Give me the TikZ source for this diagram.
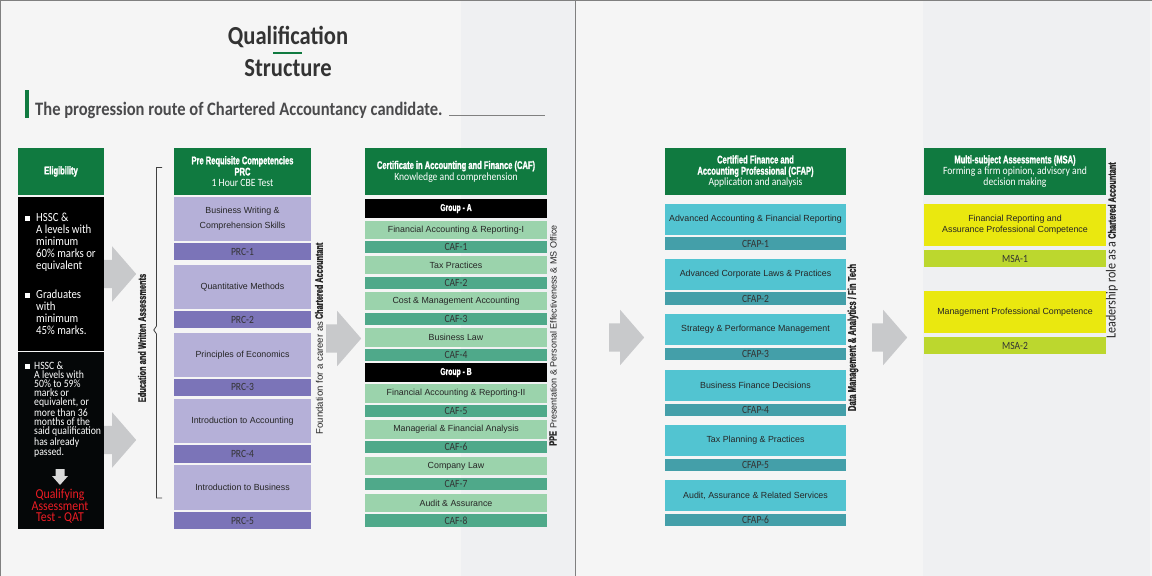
\documentclass[tikz,border=0pt]{standalone}
\usepackage{fontspec}
\setmainfont{Liberation Sans}
\newfontfamily\capfont[FakeStretch=0.87]{Carlito}
\newfontfamily\heavyfont[FakeStretch=0.68,BoldFeatures={FakeBold=1.5}]{Liberation Sans}
\newcommand{\heavy}[1]{{\heavyfont\bfseries #1}}
\newcommand{\heavier}[1]{{\fontsize{10.7}{10}\selectfont\heavy{#1}}}
\newcommand{\capsize}[2]{\fontsize{#1}{#2}\selectfont\capfont}
\usetikzlibrary{shapes.arrows}
\definecolor{headgreen}{HTML}{107A40}
\definecolor{prclight}{HTML}{B5B0D8}
\definecolor{prcdark}{HTML}{7B74B8}
\definecolor{caflight}{HTML}{9BD3AC}
\definecolor{cafdark}{HTML}{4FA98A}
\definecolor{cfaplight}{HTML}{52C4D1}
\definecolor{cfapdark}{HTML}{449FA9}
\definecolor{msalight}{HTML}{EAE80F}
\definecolor{msadark}{HTML}{BCD72E}
\definecolor{panelgrey}{HTML}{F5F5F5}
\definecolor{stripgrey}{HTML}{EFF0F2}
\definecolor{arrowgrey}{HTML}{C8C9CB}
\definecolor{titlegrey}{HTML}{333333}
\definecolor{subgrey}{HTML}{4A4A4C}
\definecolor{qatred}{HTML}{ED1C24}
\definecolor{nearblack}{HTML}{050708}
\tikzset{
  box/.style={inner sep=0pt,align=center,font=\fontsize{8.85}{11}\selectfont,text=black!85},
  head/.style={box,fill=headgreen,text=white,minimum height=47pt,font=\capsize{11.1}{11.2}},
  code/.style={box,font=\capsize{11}{11},text=black!80},
  prc/.style={box,fill=prclight,minimum width=137pt},
  prccode/.style={code,fill=prcdark,minimum width=137pt},
  caf/.style={box,fill=caflight,minimum width=182pt,minimum height=18.5pt},
  cafcode/.style={code,fill=cafdark,minimum width=182pt,minimum height=12.3pt},
  group/.style={box,fill=black,text=white,minimum width=182pt,minimum height=19pt},
  cfap/.style={box,fill=cfaplight,minimum width=181pt,minimum height=31pt},
  cfapcode/.style={code,fill=cfapdark,minimum width=181pt,minimum height=12.5pt},
  msa/.style={box,fill=msalight,minimum width=182pt,minimum height=42pt},
  msacode/.style={code,fill=msadark,minimum width=182pt,minimum height=17pt},
  blockarrow/.style={single arrow,fill=arrowgrey,inner sep=0pt,anchor=tail,minimum height=32pt,
    minimum width=55pt,single arrow head extend=13.5pt,single arrow tip angle=98,
    single arrow head indent=0pt},
  bullet/.style={fill=white,inner sep=0pt,minimum size=5pt},
  elig/.style={anchor=north west,inner sep=0pt,align=left,text=white},
  side/.style={rotate=90,inner sep=0pt,text=black!85}
}
\begin{document}
\begin{tikzpicture}[x=1pt,y=-1pt]
  \useasboundingbox (0,0) rectangle (1152,576);
  % panels
  \fill[panelgrey] (0,0) rectangle (1152,576);
  \fill[stripgrey] (461,0) rectangle (575,576);
  \fill[stripgrey] (923,0) rectangle (1150,576);
  \draw[gray,line width=1pt] (0.5,576)--(0.5,0.5)--(1152,0.5);
  \draw[gray,line width=1pt] (575.5,0)--++(0,576);
  % title
  \node[inner sep=0pt,text=titlegrey,font=\capsize{26}{26}\bfseries] (qualif) at (288,36.5) {Qualification};
  \node[inner sep=0pt,text=titlegrey,font=\capsize{26}{26}\bfseries] (struct) at (288,68.5) {Structure};
  \fill[headgreen] (273,51.8) rectangle (302,53.6);
  \fill[headgreen] (25,90) rectangle (29,118);
  \node[anchor=west,inner sep=0pt,text=subgrey,font=\capsize{19}{19}\bfseries] (route) at (35,110) {The progression route of Chartered Accountancy candidate.};
  \draw[gray] (449,115.5)--++(96,0);
  % eligibility
  \node[head,minimum width=86pt] (elighead) at (61,171.5) {\heavy{Eligibility}};
  \node[fill=black,inner sep=0pt,minimum width=86pt,minimum height=154pt] (eligone) at (61,274) {};
  \node[fill=nearblack,inner sep=0pt,minimum width=86pt,minimum height=177pt] (eligtwo) at (61,440.5) {};
  \node[bullet] (bulleta) at (27.5,218) {};
  \node[elig,font=\capsize{12.4}{12}] (eligtexta) at (36,212.5) {HSSC \&\\A levels with\\minimum\\60\% marks or\\equivalent};
  \node[bullet] (bulletb) at (27.5,295) {};
  \node[elig,font=\capsize{12.4}{12}] (eligtextb) at (36,289.5) {Graduates\\with\\minimum\\45\% marks.};
  \node[bullet] (bulletc) at (27,366.5) {};
  \node[elig,font=\capsize{11.2}{9}] (eligtextc) at (34,362) {HSSC \&\\A levels with\\50\% to 59\%\\marks or\\equivalent, or\\more than 36\\months of the\\said qualification\\has already\\passed.};
  \fill[white!85!black] (55.5,469)--(64.5,469)--(64.5,476)--(68,476)--(60,485)--(52,476)--(55.5,476)--cycle;
  \node[inner sep=0pt,align=center,text=qatred,font=\capsize{13.6}{11}] (qat) at (60,506) {Qualifying\\Assessment\\Test - QAT};
  % arrows
  \node[blockarrow] (arrowa) at (104,274) {\rule{0pt}{28pt}};
  \node[blockarrow] (arrowb) at (104,440) {\rule{0pt}{28pt}};
  \node[blockarrow,minimum height=35pt] (arrowc) at (326,338.5) {\rule{0pt}{28pt}};
  \node[blockarrow,minimum height=35pt] (arrowd) at (609,337.5) {\rule{0pt}{28pt}};
  \node[blockarrow,minimum height=35pt] (arrowe) at (872,337.5) {\rule{0pt}{28pt}};
  % brace
  \draw[black!75,line width=0.8pt] (162,167.5)--(156.5,167.5)--(156.5,326)--(153.8,330)--(156.5,334)--(156.5,498)--(162,498);
  \node[side] (edu) at (142,338) {\fontsize{10.9}{10}\selectfont\heavy{Education and Written Assessments}};
  % prc
  \node[head,minimum width=137pt] (prchead) at (242.5,171.5) {\heavy{Pre Requisite Competencies}\\\heavy{PRC}\\1 Hour CBE Test};
  \node[prc,minimum height=44pt,font=\fontsize{8.85}{15}\selectfont] (prca) at (242.5,219) {Business Writing \&\\Comprehension Skills};
  \node[prccode,minimum height=17pt] (prcacode) at (242.5,251.5) {PRC-1};
  \node[prc,minimum height=44pt] (prcb) at (242.5,287) {Quantitative Methods};
  \node[prccode,minimum height=17pt] (prcbcode) at (242.5,319.5) {PRC-2};
  \node[prc,minimum height=44pt] (prcc) at (242.5,355) {Principles of Economics};
  \node[prccode,minimum height=17pt] (prcccode) at (242.5,387) {PRC-3};
  \node[prc,minimum height=44pt] (prcd) at (242.5,421) {Introduction to Accounting};
  \node[prccode,minimum height=18pt] (prcdcode) at (242.5,454) {PRC-4};
  \node[prc,minimum height=45pt] (prce) at (242.5,487.5) {Introduction to Business};
  \node[prccode,minimum height=17pt] (prcecode) at (242.5,520.5) {PRC-5};
  \node[side,font=\fontsize{9.6}{10}\selectfont] (found) at (319,338.5) {Foundation for a career as \heavier{Chartered Accountant}};
  % caf
  \node[head,minimum width=182pt] (cafhead) at (456,171.5) {\heavy{Certificate in Accounting and Finance (CAF)}\\Knowledge and comprehension};
  \node[group] (groupa) at (456,208.5) {\fontsize{10}{11}\selectfont\heavy{Group - A}};
  \node[caf] (cafa) at (456,230) {Financial Accounting \& Reporting-I};
  \node[cafcode] (cafacode) at (456,247) {CAF-1};
  \node[caf] (cafb) at (456,265) {Tax Practices};
  \node[cafcode] (cafbcode) at (456,283) {CAF-2};
  \node[caf] (cafc) at (456,301) {Cost \& Management Accounting};
  \node[cafcode] (cafccode) at (456,319) {CAF-3};
  \node[caf] (cafd) at (456,337.5) {Business Law};
  \node[cafcode] (cafdcode) at (456,355) {CAF-4};
  \node[group] (groupb) at (456,372.5) {\fontsize{10}{11}\selectfont\heavy{Group - B}};
  \node[caf] (cafe) at (456,393.5) {Financial Accounting \& Reporting-II};
  \node[cafcode] (cafecode) at (456,411) {CAF-5};
  \node[caf] (caff) at (456,429.5) {Managerial \& Financial Analysis};
  \node[cafcode] (caffcode) at (456,447) {CAF-6};
  \node[caf] (cafg) at (456,466) {Company Law};
  \node[cafcode] (cafgcode) at (456,484) {CAF-7};
  \node[caf] (cafh) at (456,503) {Audit \& Assurance};
  \node[cafcode] (cafhcode) at (456,520.5) {CAF-8};
  \node[side,font=\fontsize{9}{10}\selectfont] (ppe) at (553,335.5) {\heavier{PPE} Presentation \& Personal Effectiveness \& MS Office};
  % cfap
  \node[head,minimum width=181pt] (cfaphead) at (755.5,171.5) {\heavy{Certified Finance and}\\\heavy{Accounting Professional (CFAP)}\\Application and analysis};
  \node[cfap] (cfapa) at (755.5,219.5) {Advanced Accounting \& Financial Reporting};
  \node[cfapcode] (cfapacode) at (755.5,243.5) {CFAP-1};
  \node[cfap] (cfapb) at (755.5,274.5) {Advanced Corporate Laws \& Practices};
  \node[cfapcode] (cfapbcode) at (755.5,298.5) {CFAP-2};
  \node[cfap] (cfapc) at (755.5,329.5) {Strategy \& Performance Management};
  \node[cfapcode] (cfapccode) at (755.5,354) {CFAP-3};
  \node[cfap] (cfapd) at (755.5,385.5) {Business Finance Decisions};
  \node[cfapcode] (cfapdcode) at (755.5,410) {CFAP-4};
  \node[cfap] (cfape) at (755.5,440.5) {Tax Planning \& Practices};
  \node[cfapcode] (cfapecode) at (755.5,465) {CFAP-5};
  \node[cfap] (cfapf) at (755.5,495.5) {Audit, Assurance \& Related Services};
  \node[cfapcode] (cfapfcode) at (755.5,520) {CFAP-6};
  \node[side] (data) at (853,337.5) {\fontsize{11.3}{10}\selectfont\heavy{Data Management \& Analytics / Fin Tech}};
  % msa
  \node[head,minimum width=182pt] (msahead) at (1015,171.5) {\heavy{Multi-subject Assessments (MSA)}\\Forming a firm opinion, advisory and\\decision making};
  \node[msa] (msaa) at (1015,225) {Financial Reporting and\\Assurance Professional Competence};
  \node[msacode] (msaacode) at (1015,258.5) {MSA-1};
  \node[msa] (msab) at (1015,312) {Management Professional Competence};
  \node[msacode] (msabcode) at (1015,345.5) {MSA-2};
  \node[side] (lead) at (1112,250.5) {{\capfont\fontsize{13.9}{10}\selectfont Leadership role as a} \heavier{Chartered Accountant}};
\end{tikzpicture}
\end{document}
